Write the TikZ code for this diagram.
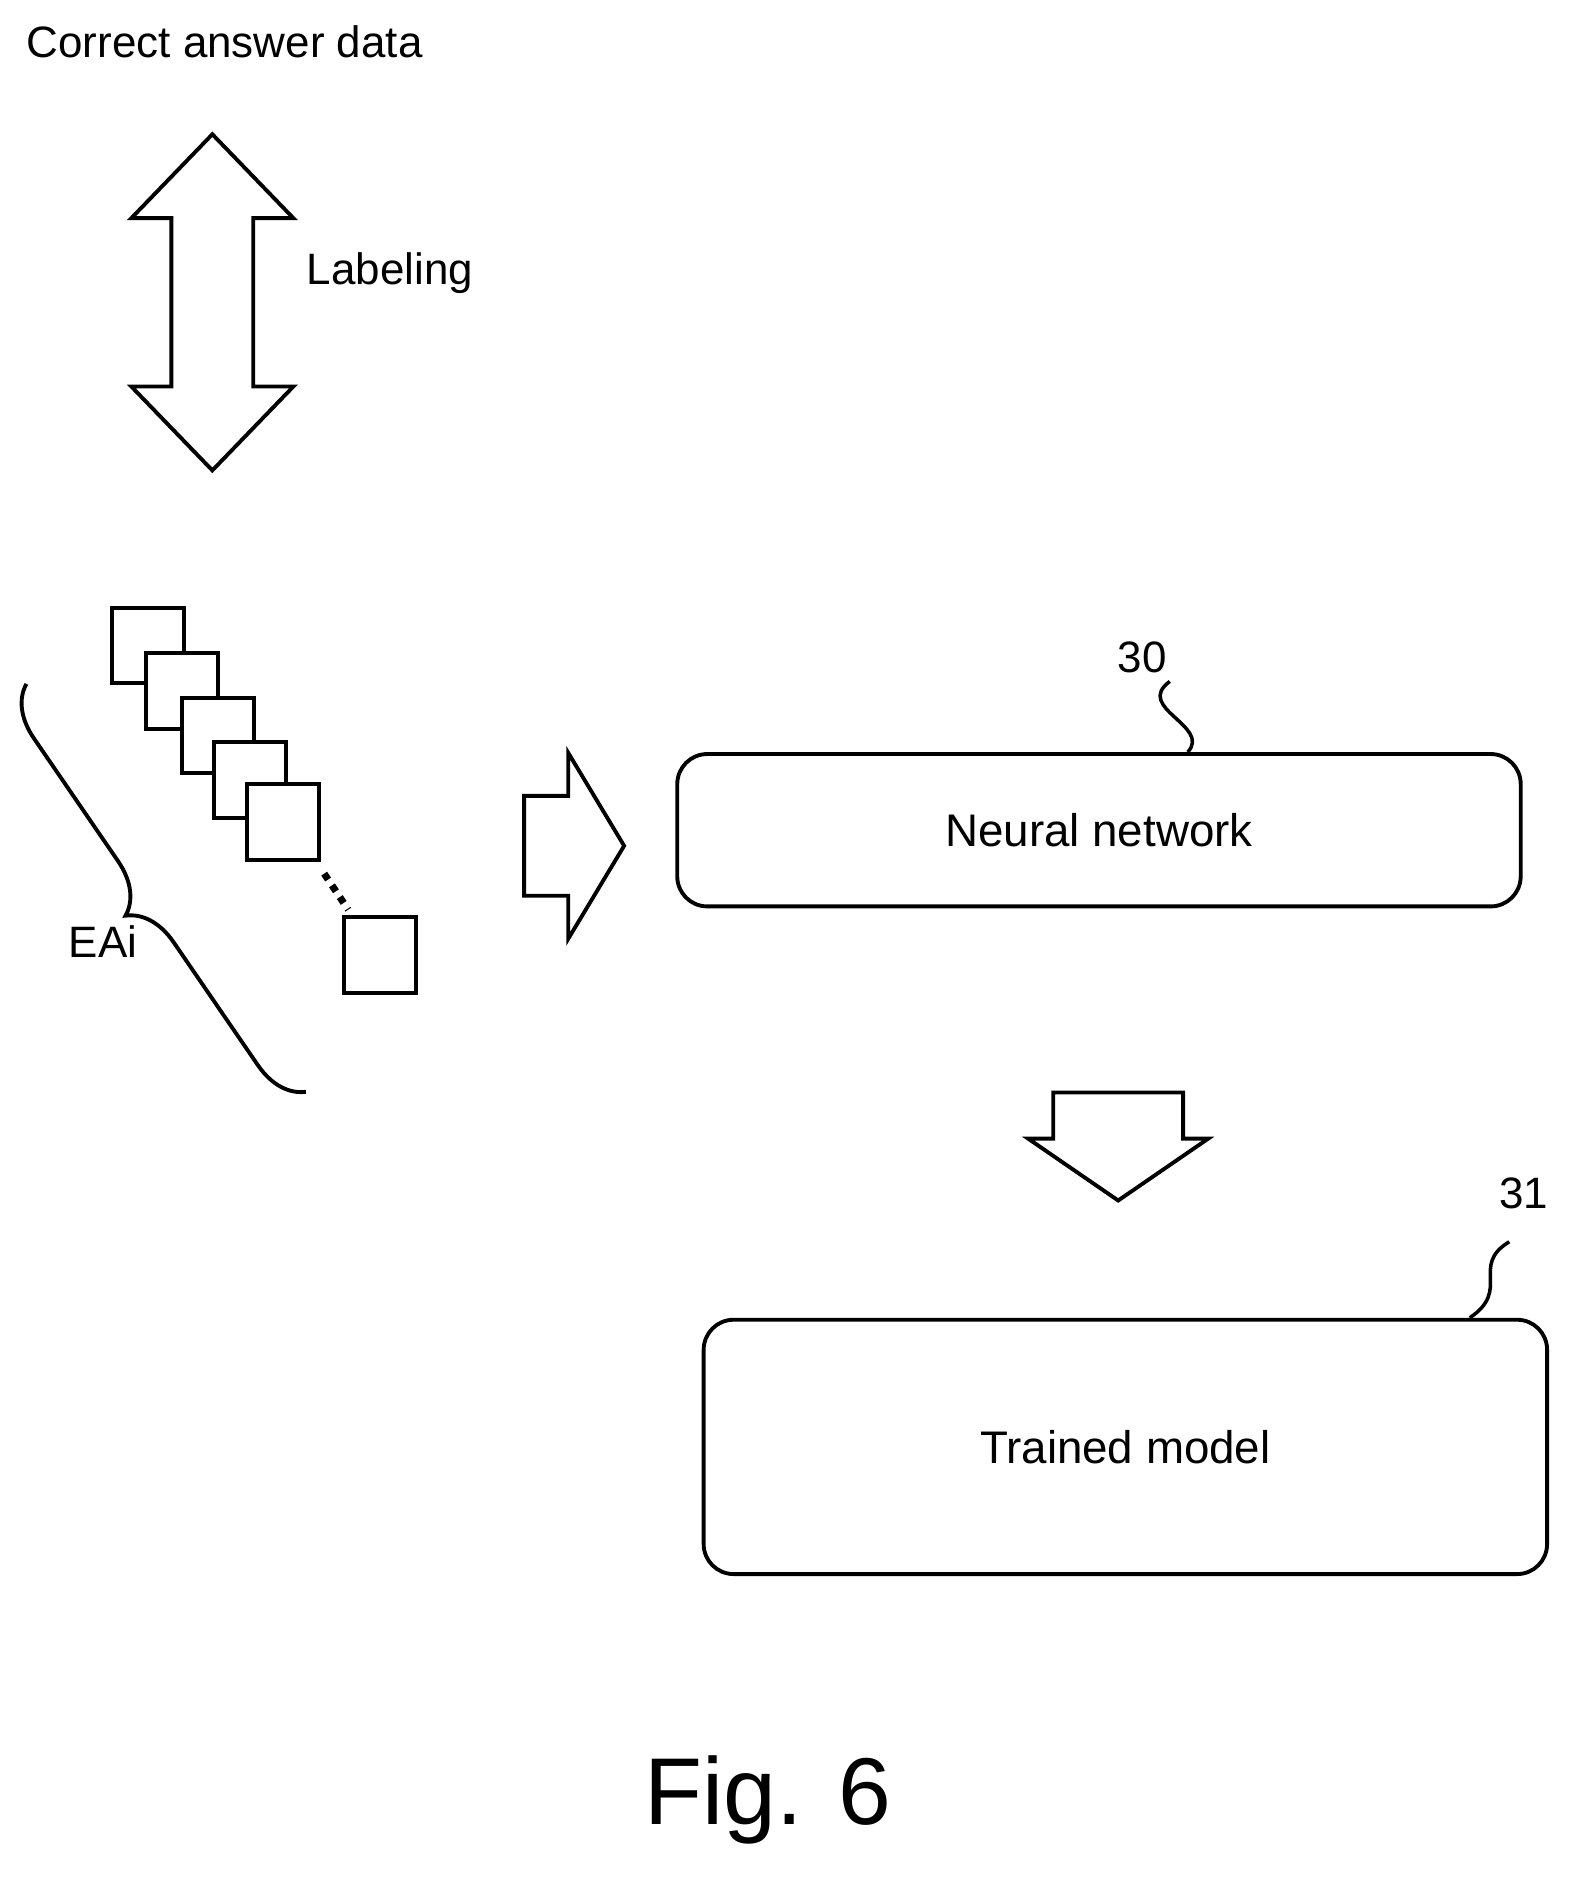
\documentclass[tikz,border=0pt]{standalone}
\usepackage{fontspec}
\setmainfont{Liberation Sans}
\usetikzlibrary{shapes.arrows,decorations.pathreplacing}
\begin{document}
\begin{tikzpicture}[
x=0.012cm,y=-0.012cm,
txt/.style={font=\fontsize{12.5}{15}\selectfont},
fat/.style={draw=black,line width=1.1pt,fill=white,inner xsep=0pt},
frame/.style={draw=black,line width=1.1pt,minimum width=60*0.012cm,minimum height=63*0.012cm},
box/.style={draw=black,line width=1.1pt,rounded corners=3mm,font=\fontsize{13}{16}\selectfont}
]
\useasboundingbox (0,0) rectangle (1310,1567);
\node[txt,anchor=west] (ans) at (12,35) {Correct answer data};
% labeling arrow
\node[fat,double arrow,rotate=90,minimum height=3.36cm,minimum width=1.58cm,inner ysep=0.39cm,
	double arrow head extend=0.4cm,double arrow tip angle=88] (lab) at (177,252) {};
\node[txt] (labtxt) at (325,228) {Labeling};
% stack of images
\foreach \i/\x/\y in {1/92/505,2/120/543,3/150/580,4/177/617,5/204/652}
	\node[frame,anchor=north west,fill=white] (img\i) at (\x,\y) {};
\node[frame,anchor=north west] (imgn) at (285,763) {};
\draw[line width=2pt,dotted] (img5.south east) ++(3,10) coordinate (d1) -- ++(20,30) coordinate (d2);
\draw[line width=1.1pt,decorate,decoration={brace,amplitude=14pt}] (255,910) -- (22,570);
\node[txt] (eai) at (86,785) {EAi};
% input arrow
\node[fat,single arrow,minimum height=1cm,minimum width=1.82cm,inner ysep=0.48cm,
	single arrow head extend=0.43cm,single arrow tip angle=118] (in) at (466,705) {};
% neural network
\node[box,minimum width=703*0.012cm,minimum height=127*0.012cm] (nn) at (916,692) {Neural network};
\node[txt] (l30) at (952,548) {30};
\draw[line width=1pt] (975,568) .. controls (945,590) and (1010,605) .. (nn.north -| 990,0);
% output arrow
\node[fat,single arrow,rotate=-90,minimum height=1.08cm,minimum width=1.76cm,inner ysep=0.63cm,
	single arrow head extend=0.25cm,single arrow tip angle=111] (out) at (932,937) {};
% trained model
\node[box,minimum width=703*0.012cm,minimum height=212*0.012cm] (tm) at (938,1206) {Trained model};
\node[txt] (l31) at (1270,995) {31};
\draw[line width=1pt] (1258,1035) .. controls (1225,1055) and (1260,1075) .. (tm.north -| 1225,0);
\node[font=\fontsize{27}{30}\selectfont] (fig) at (640,1500) {Fig. 6};
\end{tikzpicture}
\end{document}
